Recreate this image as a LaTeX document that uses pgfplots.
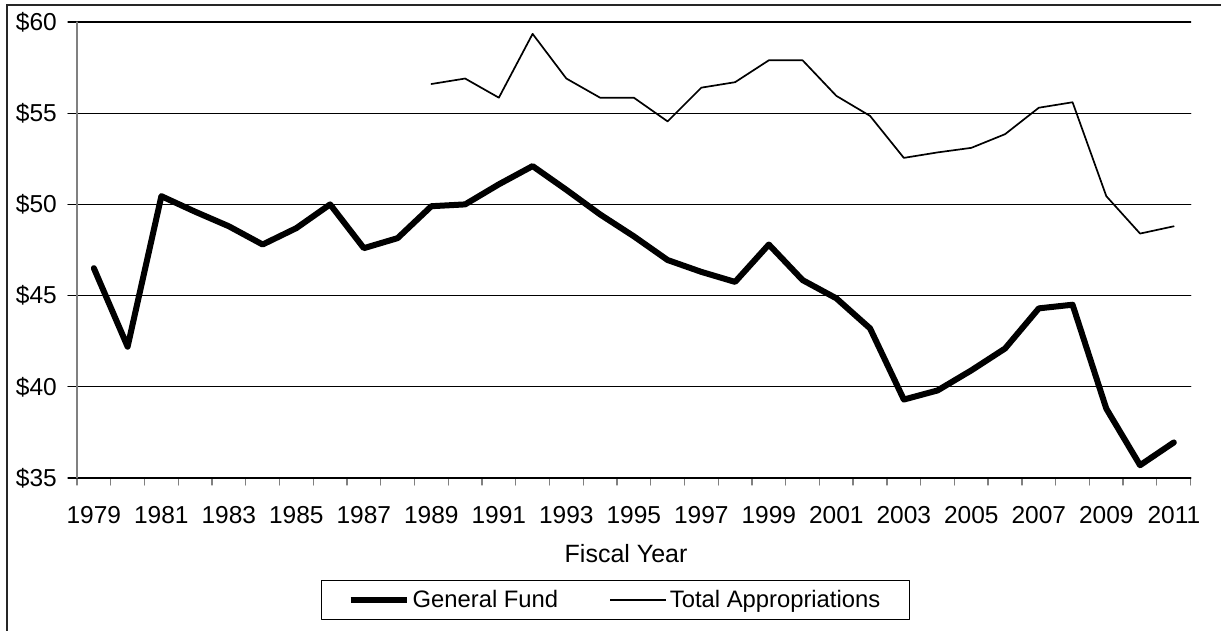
\documentclass[border=0pt]{standalone}
\usepackage{pgfplots}
\pgfplotsset{compat=1.18}
\usepackage{fontspec}
\setmainfont{Liberation Sans}
\newcommand\fs{\fontsize{24.5}{29}\selectfont}
\newcommand\fl{\fontsize{23.8}{28}\selectfont}
\newcommand\ft{\fontsize{25}{30}\selectfont}
\begin{document}
\begin{tikzpicture}
\useasboundingbox (0pt,0pt) rectangle (1221pt,631pt);
\draw[line width=1.5pt, black!85] (7pt,0pt) -- (7pt,626pt) -- (1221pt,626pt);
\begin{axis}[
  at={(77pt,153pt)}, anchor=south west,
  scale only axis, width=1113.7pt, height=456pt,
  xmin=1978.5, xmax=2011.5, ymin=35, ymax=60,
  axis x line*=bottom, axis y line*=left,
  x axis line style={black, line width=1.3pt},
  y axis line style={black!50, line width=1.3pt},
  xtick={1979,1981,...,2011},
  xticklabels={1979,1981,1983,1985,1987,1989,1991,1993,1995,1997,1999,2001,2003,2005,2007,2009,2011},
  minor xtick={1978.5,1979.5,...,2011.6},
  ytick={35,40,45,50,55,60},
  yticklabels={\$35,\$40,\$45,\$50,\$55,\$60},
  ymajorgrids,
  grid style={black, line width=1.3pt},
  tick align=outside,
  major tick length=9pt,
  minor tick length=7pt,
  xtick style={draw=none},
  minor x tick style={draw=black!50, line width=1.3pt},
  ytick style={black, line width=1.3pt},
  tick label style={font=\fs},
  xticklabel style={anchor=north, inner sep=0pt, yshift=-19.5pt},
  yticklabel style={anchor=east, inner sep=0pt, xshift=-11pt},
  xlabel={Fiscal Year},
  xlabel style={font=\ft, at={(axis description cs:0.493,-0.1447)}, anchor=north, inner sep=0pt},
  legend columns=2,
  legend style={at={(axis description cs:0.4835,-0.2675)}, anchor=center,
    draw=black, line width=1.3pt, font=\fl, inner xsep=26pt, inner ysep=7pt,
    nodes={inner xsep=3pt, inner ysep=3pt},
    /tikz/every even column/.append style={column sep=48pt}},
  legend image code/.code={\draw[#1] (0pt,0pt) -- (56pt,0pt);},
  line join=round, line cap=round,
]
\addplot[black, line width=6pt] coordinates {
(1979,46.5) (1980,42.2) (1981,50.45) (1982,49.6) (1983,48.8) (1984,47.8)
(1985,48.7) (1986,50.0) (1987,47.6) (1988,48.15) (1989,49.9) (1990,50.0)
(1991,51.1) (1992,52.1) (1993,50.8) (1994,49.45) (1995,48.25) (1996,46.95)
(1997,46.3) (1998,45.75) (1999,47.8) (2000,45.85) (2001,44.85) (2002,43.2)
(2003,39.3) (2004,39.8) (2005,40.9) (2006,42.1) (2007,44.3) (2008,44.5)
(2009,38.8) (2010,35.7) (2011,36.95)
};
\addlegendentry{General Fund}
\addplot[black, line width=1.7pt] coordinates {
(1989,56.6) (1990,56.9) (1991,55.85) (1992,59.35) (1993,56.9) (1994,55.85)
(1995,55.85) (1996,54.55) (1997,56.4) (1998,56.7) (1999,57.9) (2000,57.9)
(2001,55.95) (2002,54.85) (2003,52.55) (2004,52.85) (2005,53.1) (2006,53.85)
(2007,55.3) (2008,55.6) (2009,50.45) (2010,48.4) (2011,48.8)
};
\addlegendentry{Total Appropriations}
\end{axis}
\end{tikzpicture}
\end{document}
